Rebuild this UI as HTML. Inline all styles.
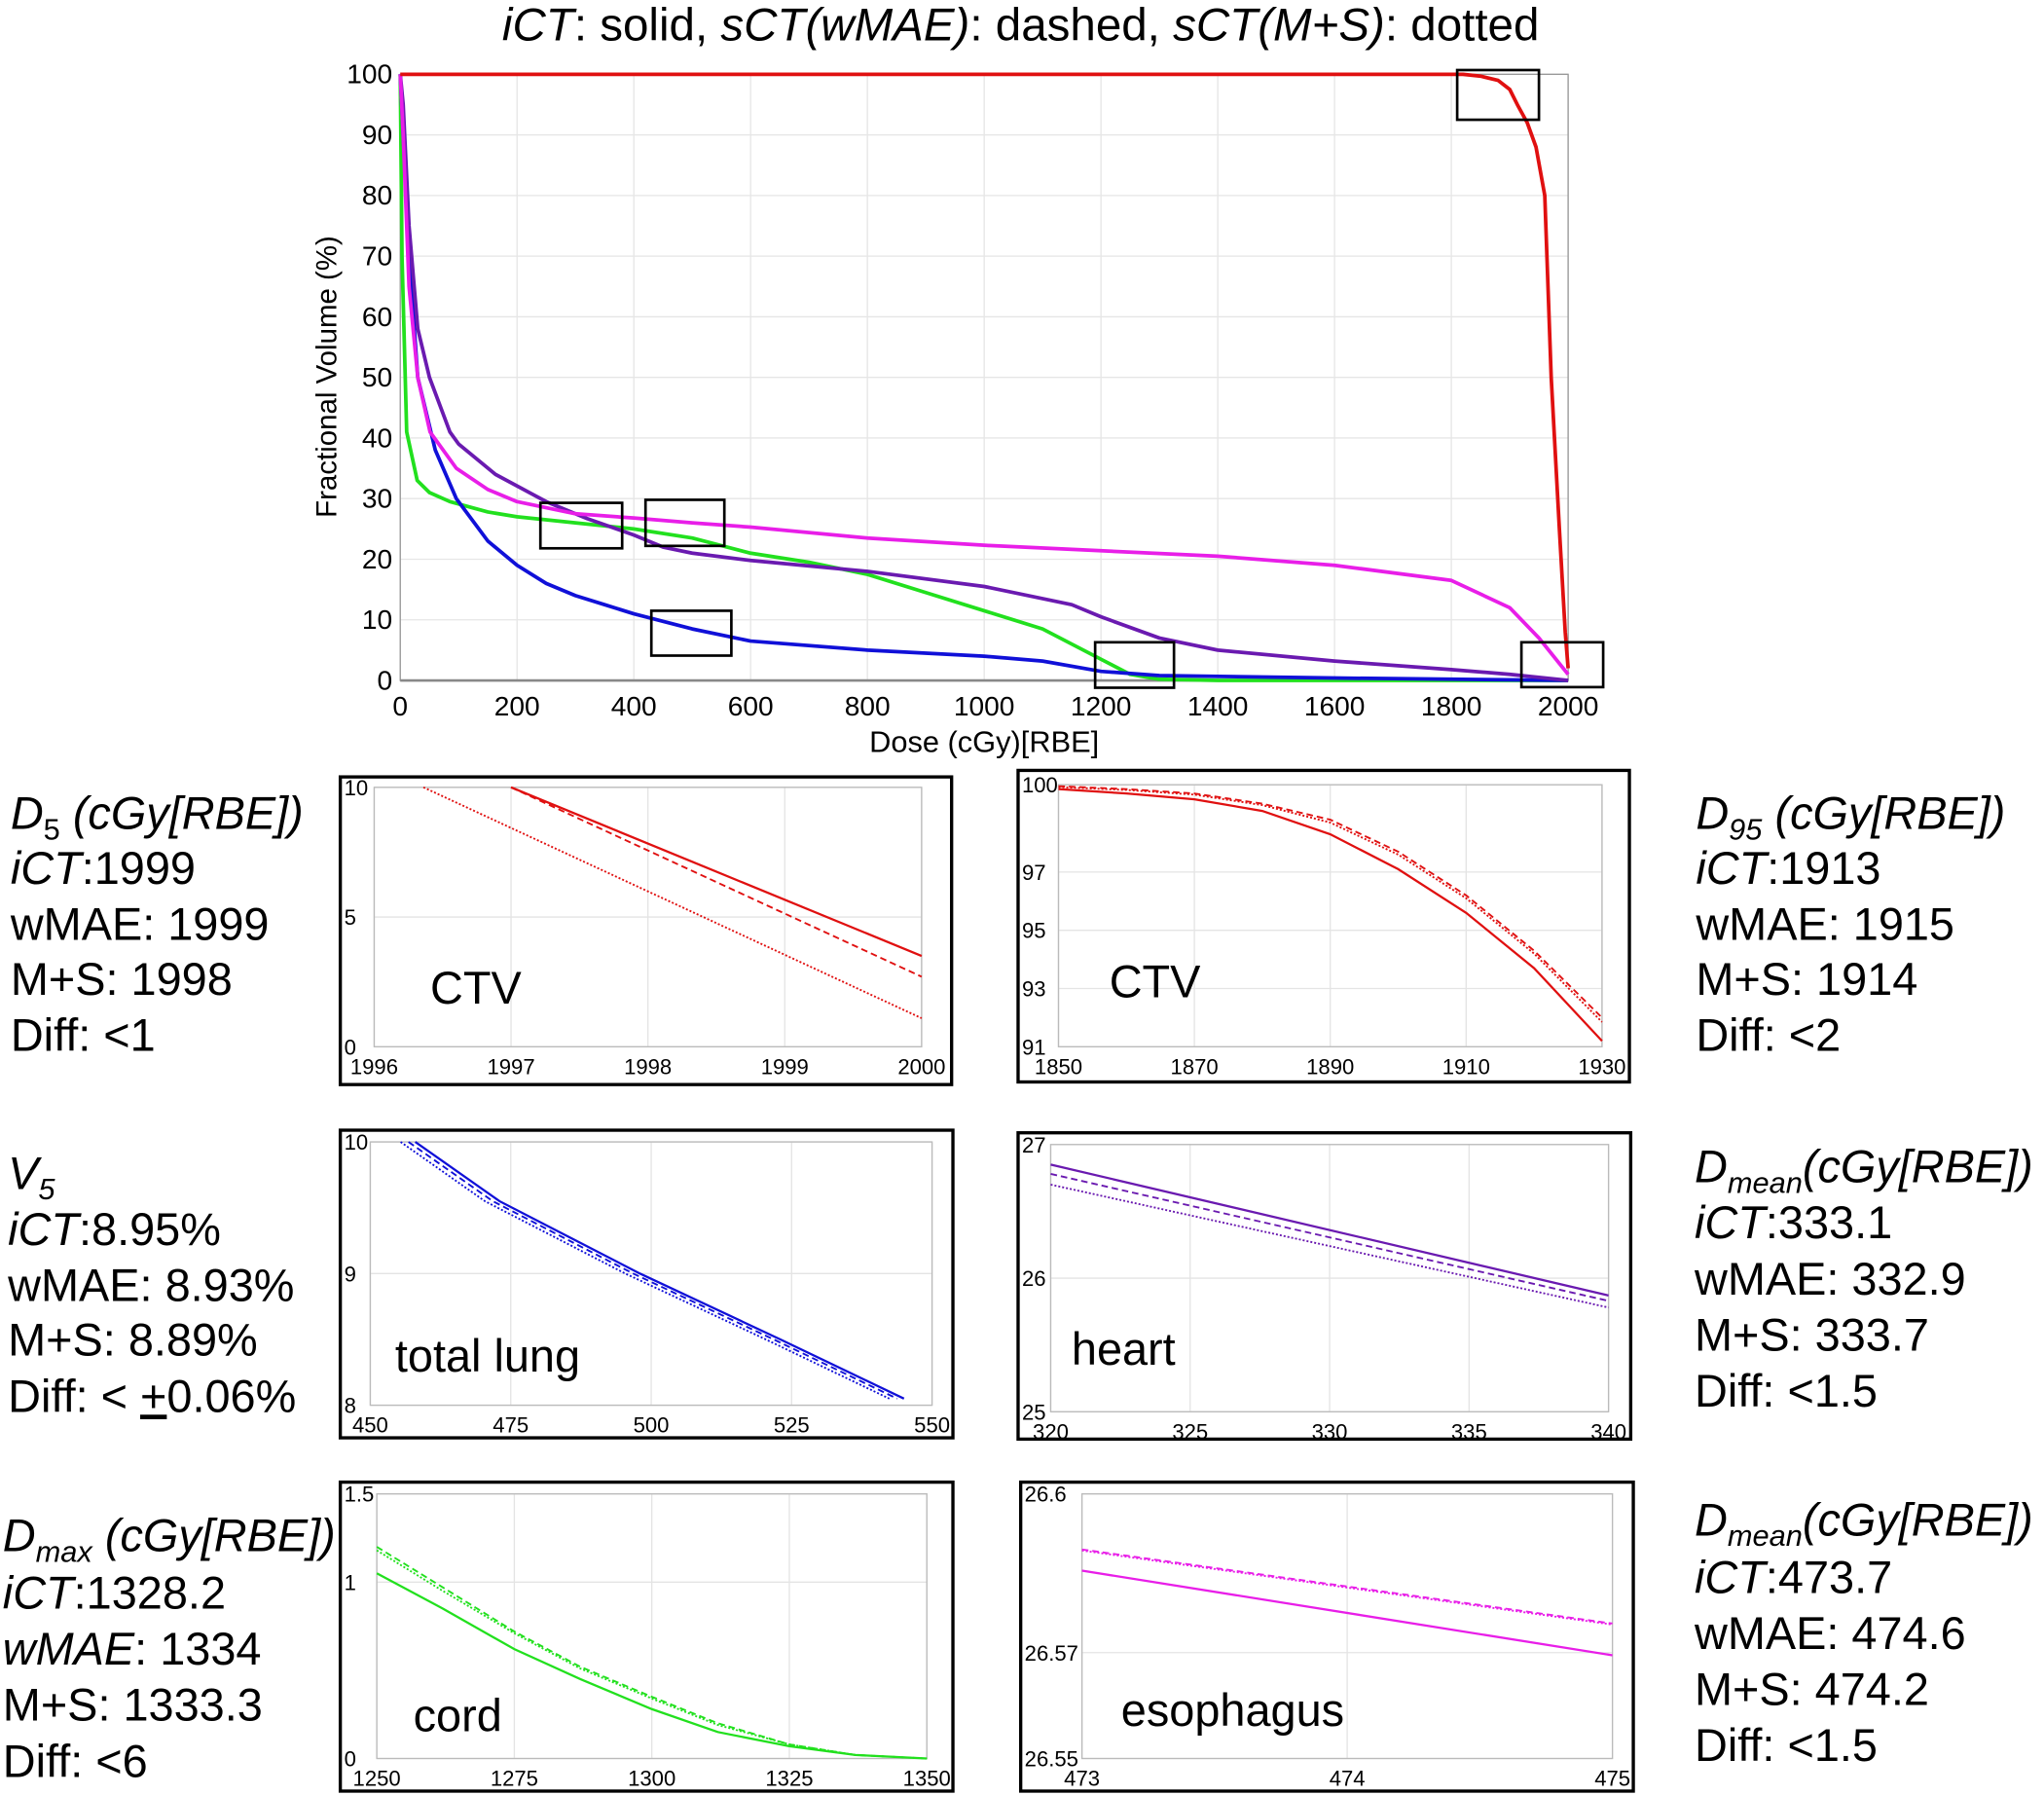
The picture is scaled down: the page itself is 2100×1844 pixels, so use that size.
<!DOCTYPE html>
<html><head><meta charset="utf-8"><style>
html,body{margin:0;padding:0;background:#fff;}
svg{display:block;font-family:"Liberation Sans",Arial,sans-serif;}
</style></head><body>
<svg id="fig" width="2100" height="1844" viewBox="0 0 1568 1377" xmlns="http://www.w3.org/2000/svg">
<text x="783" y="31" font-size="35.5" text-anchor="middle"><tspan font-style="italic">iCT</tspan>: solid, <tspan font-style="italic">sCT(wMAE)</tspan>: dashed, <tspan font-style="italic">sCT(M+S)</tspan>: dotted</text>
<g id="main"></g>
<g id="subs"></g>
<g font-size="35">
<text x="8" y="636"><tspan font-style="italic">D</tspan><tspan font-size="23" dy="8">5</tspan><tspan dy="-8" font-style="italic"> (cGy[RBE])</tspan></text>
<text x="8" y="678"><tspan font-style="italic">iCT</tspan>:1999</text>
<text x="8" y="721">wMAE: 1999</text>
<text x="8" y="763">M+S: 1998</text>
<text x="8" y="806">Diff: &lt;1</text>
<text x="6" y="912"><tspan font-style="italic">V</tspan><tspan font-size="23" dy="8" font-style="italic">5</tspan></text>
<text x="6" y="955"><tspan font-style="italic">iCT</tspan>:8.95%</text>
<text x="6" y="998">wMAE: 8.93%</text>
<text x="6" y="1040">M+S: 8.89%</text>
<text x="6" y="1083">Diff: &lt; <tspan text-decoration="underline">+</tspan>0.06%</text>
<text x="2" y="1190"><tspan font-style="italic">D</tspan><tspan font-size="23" dy="8" font-style="italic">max</tspan><tspan dy="-8" font-style="italic"> (cGy[RBE])</tspan></text>
<text x="2" y="1234"><tspan font-style="italic">iCT</tspan>:1328.2</text>
<text x="2" y="1277"><tspan font-style="italic">wMAE</tspan>: 1334</text>
<text x="2" y="1320">M+S: 1333.3</text>
<text x="2" y="1363">Diff: &lt;6</text>
</g>
<g font-size="35">
<text x="1301" y="636"><tspan font-style="italic">D</tspan><tspan font-size="23" dy="8" font-style="italic">95</tspan><tspan dy="-8" font-style="italic"> (cGy[RBE])</tspan></text>
<text x="1301" y="678"><tspan font-style="italic">iCT</tspan>:1913</text>
<text x="1301" y="721">wMAE: 1915</text>
<text x="1301" y="763">M+S: 1914</text>
<text x="1301" y="806">Diff: &lt;2</text>
<text x="1300" y="907"><tspan font-style="italic">D</tspan><tspan font-size="23" dy="8" font-style="italic">mean</tspan><tspan dy="-8" font-style="italic">(cGy[RBE])</tspan></text>
<text x="1300" y="950"><tspan font-style="italic">iCT</tspan>:333.1</text>
<text x="1300" y="993">wMAE: 332.9</text>
<text x="1300" y="1036">M+S: 333.7</text>
<text x="1300" y="1079">Diff: &lt;1.5</text>
<text x="1300" y="1178"><tspan font-style="italic">D</tspan><tspan font-size="23" dy="8" font-style="italic">mean</tspan><tspan dy="-8" font-style="italic">(cGy[RBE])</tspan></text>
<text x="1300" y="1222"><tspan font-style="italic">iCT</tspan>:473.7</text>
<text x="1300" y="1265">wMAE: 474.6</text>
<text x="1300" y="1308">M+S: 474.2</text>
<text x="1300" y="1351">Diff: &lt;1.5</text>
</g>
</svg>
<script>
const NS="http://www.w3.org/2000/svg";
// main chart data
const xTicks=[0,200,400,600,800,1000,1200,1400,1600,1800,2000];
const yTicks=[0,10,20,30,40,50,60,70,80,90,100];
const ctvDose=[0,1820,1850,1880,1900,1913,1930,1945,1960,1971,1985,1995,2000];
const ctvVol=[100,100,99.7,99,97.5,95,92,88,80,50,25,8,2];
const esoDose=[0,5,15,30,51,96,150,200,300,400,500,600,800,1000,1200,1400,1600,1800,1900,1950,2000];
const esoVol=[100,90,65,50,41,35,31.5,29.5,27.5,26.8,26,25.3,23.5,22.3,21.4,20.5,19,16.5,12,7,1];
const heartDose=[0,5,15,30,50,85,100,163,250,320,400,450,500,600,800,1000,1150,1200,1300,1400,1600,1800,1900,2000];
const heartVol=[100,95,75,58,50,41,39,34,29.5,26.7,24,22,21,19.8,18,15.5,12.5,10.5,7,5,3.2,1.8,1,0];
const lungDose=[0,5,15,30,60,96,150,200,250,300,350,400,500,600,800,1000,1100,1200,1300,1600,2000];
const lungVol=[100,90,70,50,38,30,23,19,16,14,12.5,11,8.5,6.5,5,4,3.2,1.5,0.8,0.4,0];
const cordDose=[0,3,11,29,50,85,150,200,300,400,500,600,700,800,900,1000,1100,1200,1250,1300,1400,2000];
const cordVol=[100,70,41,33,31,29.5,27.8,27,26,25,23.5,21,19.5,17.5,14.5,11.5,8.5,3.5,1,0.2,0,0];
const boxesX=[[1810,1950],[240,380],[420,555],[430,567],[1190,1325],[1920,2060]];
const boxesY=[[92.5,100.7],[21.8,29.3],[22.2,29.8],[4.1,11.5],[-1.2,6.3],[-1.1,6.3]];

function el(tag,attrs,parent,name,inter){const e=document.createElementNS(NS,tag);for(const k in attrs)e.setAttribute(k,attrs[k]);


parent.appendChild(e);return e;}
function txt(parent,x,y,s,size,anchor,name){const t=el('text',{x:x,y:y,'font-size':size,'text-anchor':anchor},parent,name,false);t.textContent=s;return t;}

// main chart
(function(){
const g=document.getElementById('main');
const X0=307,X1=1203,Y0=522,Y1=57;
const sx=v=>X0+(v-0)/(2000)*(X1-X0), sy=v=>Y0-(v/100)*(Y0-Y1);
xTicks.forEach(t=>{el('line',{x1:sx(t),x2:sx(t),y1:Y1,y2:Y0,stroke:'#e6e6e6','stroke-width':1},g,'x-gridline',false);
 txt(g,sx(t),549,String(t),21,'middle','x-tick-label');});
yTicks.forEach(t=>{el('line',{x1:X0,x2:X1,y1:sy(t),y2:sy(t),stroke:'#e6e6e6','stroke-width':1},g,'y-gridline',false);
 txt(g,301,sy(t)+7,String(t),21,'end','y-tick-label');});
el('rect',{x:X0,y:Y1,width:X1-X0,height:Y0-Y1,fill:'none',stroke:'#999','stroke-width':1},g,'plot-frame',false);
el('line',{x1:X0,x2:X1,y1:Y0,y2:Y0,stroke:'#888','stroke-width':2},g,'x-axis',false);
txt(g,755,577,'Dose (cGy)[RBE]',23,'middle','x-axis-title');
const yt=txt(g,0,0,'Fractional Volume (%)',22,'middle','y-axis-title');yt.setAttribute('transform','translate(258,289) rotate(-90)');
const series=[[cordDose,cordVol,'#22e01e','cord-curve'],[lungDose,lungVol,'#1010d8','total-lung-curve'],[heartDose,heartVol,'#6a1ab0','heart-curve'],[esoDose,esoVol,'#e81ee8','esophagus-curve'],[ctvDose,ctvVol,'#e01010','ctv-curve']];
series.forEach(s=>{el('polyline',{points:s[0].map((d,i)=>sx(d)+','+sy(s[1][i])).join(' '),fill:'none',stroke:s[2],'stroke-width':2.8,'stroke-linejoin':'round'},g,s[3],false);});
boxesX.forEach((b,i)=>{const y0=sy(boxesY[i][1]),y1=sy(boxesY[i][0]);
 el('rect',{x:sx(b[0]),y:y0,width:sx(b[1])-sx(b[0]),height:y1-y0,fill:'none',stroke:'#000','stroke-width':2},g,'zoom-box',false);});
})();

// zoom panels data
const pACx=[1996,1997,1998,1999,2000];const pACy=[0,5,10];
const pASolidX=[1997,2000];const pASolidY=[10,3.5];
const pADashX=[1997,2000];const pADashY=[10,2.7];
const pADotX=[1996.36,2000];const pADotY=[10,1.1];
const pBCx=[1850,1870,1890,1910,1930];const pBCy=[91,93,95,97,100];
const pBX=[1850,1860,1870,1880,1890,1900,1910,1920,1930];
const pBSolid=[99.85,99.7,99.5,99.1,98.3,97.1,95.6,93.7,91.2];
const pBDash=[99.95,99.85,99.7,99.35,98.8,97.7,96.2,94.3,92.0];
const pBDot=[99.92,99.82,99.66,99.3,98.7,97.6,96.1,94.2,91.85];
const pCCx=[450,475,500,525,550];const pCCy=[8,9,10];
const pCX=[0,15,40,65,87];
const pCSolid=[10,9.55,9.0,8.5,8.05];
const pCStart=[458,456.8,455.4];
const pDCx=[320,325,330,335,340];const pDCy=[25,26,27];
const pDX=[320,340];
const pDSolid=[26.85,25.87];const pDDash=[26.78,25.83];const pDDot=[26.7,25.78];
const pECx=[1250,1275,1300,1325,1350];const pECy=[0,1,1.5];
const pEX=[1250,1262,1275,1287,1300,1312,1325,1337,1350];
const pESolid=[1.05,0.85,0.62,0.45,0.28,0.15,0.07,0.02,0];
const pEDash=[1.2,0.97,0.72,0.52,0.35,0.2,0.08,0.02,0];
const pEDot=[1.18,0.95,0.71,0.51,0.34,0.19,0.08,0.02,0];
const pFCx=[473,474,475];const pFCy=[26.55,26.57,26.6];
const pFX=[473,475];
const pFSolid=[26.5855,26.5695];const pFDash=[26.5895,26.5755];const pFDot=[26.5893,26.5753];

function panel(cfg){
 const g=el('g',{},document.getElementById('subs'),cfg.name,false);
 const [fx0,fy0,fx1,fy1]=cfg.frame,[ix0,ix1]=cfg.ix,[iy0,iy1]=cfg.iy;
 const sx=v=>ix0+(v-cfg.xd[0])/(cfg.xd[1]-cfg.xd[0])*(ix1-ix0);
 const sy=v=>iy0-(v-cfg.yd[0])/(cfg.yd[1]-cfg.yd[0])*(iy0-iy1);
 el('rect',{x:fx0,y:fy0,width:fx1-fx0,height:fy1-fy0,fill:'#fff',stroke:'#000','stroke-width':2.5},g,'panel-frame',false);
 cfg.cx.forEach(t=>{el('line',{x1:sx(t),x2:sx(t),y1:iy1,y2:iy0,stroke:'#e4e4e4'},g,'x-gridline',false);
  txt(g,sx(t),iy0+21,String(t),16.5,'middle','x-tick-label');});
 cfg.cy.forEach(t=>{el('line',{x1:ix0,x2:ix1,y1:sy(t),y2:sy(t),stroke:'#e4e4e4'},g,'y-gridline',false);
  txt(g,fx0+3,sy(t)+6,String(t),16.5,'start','y-tick-label');});
 el('rect',{x:ix0,y:iy1,width:ix1-ix0,height:iy0-iy1,fill:'none',stroke:'#bbb'},g,'axes-box',false);
 const dash={solid:'',dashed:'5,3',dotted:'1.5,1.5'};
 cfg.lines.forEach(l=>{const a=el('polyline',{points:l.x.map((d,i)=>sx(d)+','+sy(l.y[i])).join(' '),fill:'none',stroke:cfg.color,'stroke-width':l.s==='solid'?1.7:1.4},g,l.s+'-line',false);
  if(dash[l.s])a.setAttribute('stroke-dasharray',dash[l.s]);});
 txt(g,cfg.label[0],cfg.label[1],cfg.label[2],35,'start','panel-label');
}
panel({name:'ctv-d5-panel',frame:[261,596,730,832],ix:[287,707],iy:[803,604],xd:[1996,2000],yd:[0,10],cx:pACx,cy:pACy,color:'#e01010',label:[330,770,'CTV'],
 lines:[{s:'solid',x:pASolidX,y:pASolidY},{s:'dashed',x:pADashX,y:pADashY},{s:'dotted',x:pADotX,y:pADotY}]});
panel({name:'ctv-d95-panel',frame:[781,591,1250,830],ix:[812,1229],iy:[803,602],xd:[1850,1930],yd:[91,100],cx:pBCx,cy:pBCy,color:'#e01010',label:[851,765,'CTV'],
 lines:[{s:'solid',x:pBX,y:pBSolid},{s:'dashed',x:pBX,y:pBDash},{s:'dotted',x:pBX,y:pBDot}]});
panel({name:'lung-v5-panel',frame:[261,867,731,1103],ix:[284,715],iy:[1078,876],xd:[450,550],yd:[8,10],cx:pCCx,cy:pCCy,color:'#1010d8',label:[303,1052,'total lung'],
 lines:pCStart.map((s0,k)=>({s:['solid','dashed','dotted'][k],x:pCX.map(d=>d+s0),y:pCSolid}))});
panel({name:'heart-dmean-panel',frame:[781,869,1251,1104],ix:[806,1234],iy:[1083,878],xd:[320,340],yd:[25,27],cx:pDCx,cy:pDCy,color:'#6a1ab0',label:[822,1047,'heart'],
 lines:[{s:'solid',x:pDX,y:pDSolid},{s:'dashed',x:pDX,y:pDDash},{s:'dotted',x:pDX,y:pDDot}]});
panel({name:'cord-dmax-panel',frame:[261,1137,731,1374],ix:[289,711],iy:[1349,1146],xd:[1250,1350],yd:[0,1.5],cx:pECx,cy:pECy,color:'#22e01e',label:[317,1328,'cord'],
 lines:[{s:'solid',x:pEX,y:pESolid},{s:'dashed',x:pEX,y:pEDash},{s:'dotted',x:pEX,y:pEDot}]});
panel({name:'esophagus-dmean-panel',frame:[783,1137,1253,1374],ix:[830,1237],iy:[1349,1146],xd:[473,475],yd:[26.55,26.6],cx:pFCx,cy:pFCy,color:'#e81ee8',label:[860,1324,'esophagus'],
 lines:[{s:'solid',x:pFX,y:pFSolid},{s:'dashed',x:pFX,y:pFDash},{s:'dotted',x:pFX,y:pFDot}]});
</script>
</body></html>
